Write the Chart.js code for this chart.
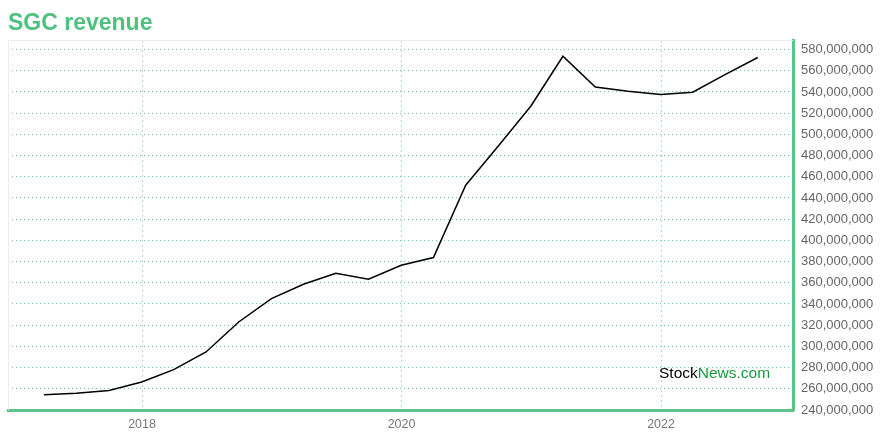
<!DOCTYPE html>
<html>
<head>
<meta charset="utf-8">
<script src="https://cdn.jsdelivr.net/npm/chart.js@4.4.1/dist/chart.umd.min.js"></script>
<style>
  html, body { margin: 0; padding: 0; background: #fff; }
  #wrap { width: 880px; height: 440px; position: relative; }
</style>
</head>
<body>
<div id="wrap"><canvas id="revenueChart"></canvas></div>
<script>
// Quarter-end dates and SGC revenue (USD)
const quarterDates = [
  '2017-03-31', '2017-06-30', '2017-09-30', '2017-12-31',
  '2018-03-31', '2018-06-30', '2018-09-30', '2018-12-31',
  '2019-03-31', '2019-06-30', '2019-09-30', '2019-12-31',
  '2020-03-31', '2020-06-30', '2020-09-30', '2020-12-31',
  '2021-03-31', '2021-06-30', '2021-09-30', '2021-12-31',
  '2022-03-31', '2022-06-30', '2022-09-30'
];
const revenue = [
  254500000, 255800000, 258300000, 266400000,
  278100000, 294700000, 323000000, 345100000,
  358600000, 369000000, 363300000, 376500000,
  383800000, 452000000, 489000000, 526800000,
  573700000, 544700000, 540700000, 537500000,
  539700000, 556400000, 572500000
];
const yearTicks = [2018, 2020, 2022];
const revenueTicks = [
  240000000, 260000000, 280000000, 300000000, 320000000, 340000000,
  360000000, 380000000, 400000000, 420000000, 440000000, 460000000,
  480000000, 500000000, 520000000, 540000000, 560000000, 580000000
];

const GREEN = '#5cc48b';

// Convert 'YYYY-MM-DD' to a decimal year for the linear x scale
function toYear(str) {
  const d = new Date(str + 'T00:00:00Z');
  const y = d.getUTCFullYear();
  const start = Date.UTC(y, 0, 1);
  const end = Date.UTC(y + 1, 0, 1);
  return y + (d.getTime() - start) / (end - start);
}

// Title, frame and watermark
const decorPlugin = {
  id: 'decor',
  beforeDatasetsDraw(chart) {
    const { ctx, chartArea: a } = chart;
    ctx.save();
    ctx.strokeStyle = '#ececec';
    ctx.lineWidth = 1;
    ctx.beginPath();
    ctx.moveTo(a.left + 0.5, a.bottom);
    ctx.lineTo(a.left + 0.5, a.top + 0.5);
    ctx.lineTo(a.right, a.top + 0.5);
    ctx.stroke();
    ctx.restore();
  },
  afterDraw(chart) {
    const { ctx } = chart;
    ctx.save();
    ctx.font = 'bold 23px "Liberation Sans", Arial, sans-serif';
    ctx.fillStyle = '#4fc17f';
    ctx.textBaseline = 'alphabetic';
    ctx.fillText('SGC revenue', 8, 30);

    ctx.font = '15.5px "Liberation Sans", Arial, sans-serif';
    ctx.textBaseline = 'middle';
    const x0 = 659;
    ctx.fillStyle = '#000';
    ctx.fillText('Stock', x0, 374);
    const w = ctx.measureText('Stock').width;
    ctx.fillStyle = '#159a3c';
    ctx.fillText('News.com', x0 + w, 374);
    ctx.restore();
  }
};

function initRevenueChart() {
  const ctx = document.getElementById('revenueChart').getContext('2d');
  const points = quarterDates.map((d, i) => ({ x: toYear(d), y: revenue[i] }));

  new Chart(ctx, {
    type: 'line',
    data: {
      datasets: [{
        label: 'Revenue',
        data: points,
        borderColor: '#000',
        borderWidth: 1.5,
        pointRadius: 0,
        tension: 0,
        fill: false
      }]
    },
    options: {
      responsive: true,
      maintainAspectRatio: false,
      animation: false,
      layout: { padding: { left: 8, top: 40, right: 0, bottom: 0 } },
      plugins: {
        legend: { display: false },
        tooltip: { enabled: false }
      },
      scales: {
        x: {
          type: 'linear',
          min: 2016.967,
          max: 2023.017,
          afterBuildTicks: s => { s.ticks = yearTicks.map(v => ({ value: v })); },
          afterFit: s => { s.height = 30; },
          grid: { color: '#ace3c4', lineWidth: 1, drawTicks: false },
          border: { display: true, color: GREEN, width: 3, dash: [2, 3] },
          ticks: {
            padding: 7,
            color: '#777',
            font: { family: '"Liberation Sans", Arial, sans-serif', size: 12.5 },
            callback: v => String(v)
          }
        },
        y: {
          position: 'right',
          min: 240000000,
          max: 589000000,
          afterBuildTicks: s => { s.ticks = revenueTicks.map(v => ({ value: v })); },
          afterFit: s => { s.width = 87; },
          grid: { color: '#6fcf9b', lineWidth: 1, drawTicks: false },
          border: { display: true, color: GREEN, width: 3, dash: [1, 3] },
          ticks: {
            padding: 8,
            color: '#666',
            font: { family: '"Liberation Sans", Arial, sans-serif', size: 13 },
            callback: v => v.toLocaleString('en-US')
          }
        }
      }
    },
    plugins: [decorPlugin]
  });
}

initRevenueChart();
</script>
</body>
</html>
